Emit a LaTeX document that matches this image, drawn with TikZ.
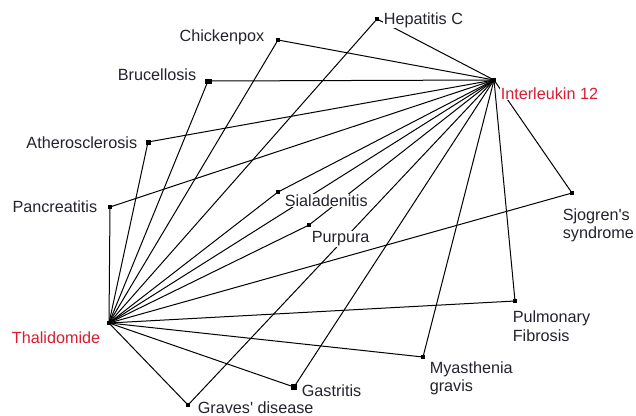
\documentclass[tikz,border=0pt]{standalone}
\usepackage{fontspec}
\setmainfont{Liberation Sans}
\definecolor{labred}{RGB}{215,30,50}
\definecolor{labtxt}{RGB}{35,35,45}
\begin{document}
\begin{tikzpicture}[x=1pt,y=-1pt,
  pt/.style={fill=black,inner sep=0pt,minimum size=4.5pt,rectangle},
  lab/.style={font=\fontsize{16.2}{18}\selectfont,text=labtxt,fill=white,inner sep=0.6pt},
  redlab/.style={lab,text=labred},
  edge/.style={line width=1pt,black}]
\useasboundingbox (0,0) rectangle (636,415);
% points
\node[pt] (il) at (494,80) {};
\node[pt] (th) at (109,323) {};
\node[pt] (hep) at (377,19) {};
\node[pt] (chi) at (278,40) {};
\node[pt,minimum width=7pt,minimum height=5pt] (bru) at (208,81) {};
\node[pt,minimum size=5pt] (ath) at (148,142) {};
\node[pt] (pan) at (110,207) {};
\node[pt] (sia) at (278,192) {};
\node[pt] (pur) at (309,225) {};
\node[pt] (sjo) at (572,193) {};
\node[pt] (pul) at (515,301) {};
\node[pt] (mya) at (423,357) {};
\node[pt,minimum size=5.5pt] (gas) at (294,387) {};
\node[pt] (gra) at (188,405) {};
% edges
\draw[edge] (th.center) -- (il.center);
\foreach \n in {hep,chi,bru,ath,pan,sia,pur,sjo,pul,mya,gas,gra}{
  \draw[edge] (th.center) -- (\n.center);
  \draw[edge] (il.center) -- (\n.center);
}
% labels
\node[lab,anchor=base west] (lhep) at (383,24) {Hepatitis C};
\node[redlab,anchor=base west] (lil) at (500,99) {Interleukin 12};
\node[lab,anchor=base east] (lchi) at (265,41.5) {Chickenpox};
\node[lab,anchor=base east] (lbru) at (197,80) {Brucellosis};
\node[lab,anchor=base east] (lath) at (138,148.3) {Atherosclerosis};
\node[lab,anchor=base east] (lpan) at (98,212.5) {Pancreatitis};
\node[redlab,anchor=base east] (lth) at (101,343.3) {Thalidomide};
\node[lab,anchor=base west] (lsia) at (284,206.7) {Sialadenitis};
\node[lab,anchor=base west] (lpur) at (311,242.7) {Purpura};
\node[lab,anchor=base west] (lsjo1) at (562,220) {Sjogren\textquotesingle s};
\node[lab,anchor=base west] (lsjo2) at (562,238.3) {syndrome};
\node[lab,anchor=base west] (lpul1) at (512,322.3) {Pulmonary};
\node[lab,anchor=base west] (lpul2) at (512,341.7) {Fibrosis};
\node[lab,anchor=base west] (lmya1) at (429,373.3) {Myasthenia};
\node[lab,anchor=base west] (lmya2) at (429,391.7) {gravis};
\node[lab,anchor=base west] (lgas) at (301,396.7) {Gastritis};
\node[lab,anchor=base west] (lgra) at (197,413) {Graves\textquotesingle\ disease};
\end{tikzpicture}
\end{document}
